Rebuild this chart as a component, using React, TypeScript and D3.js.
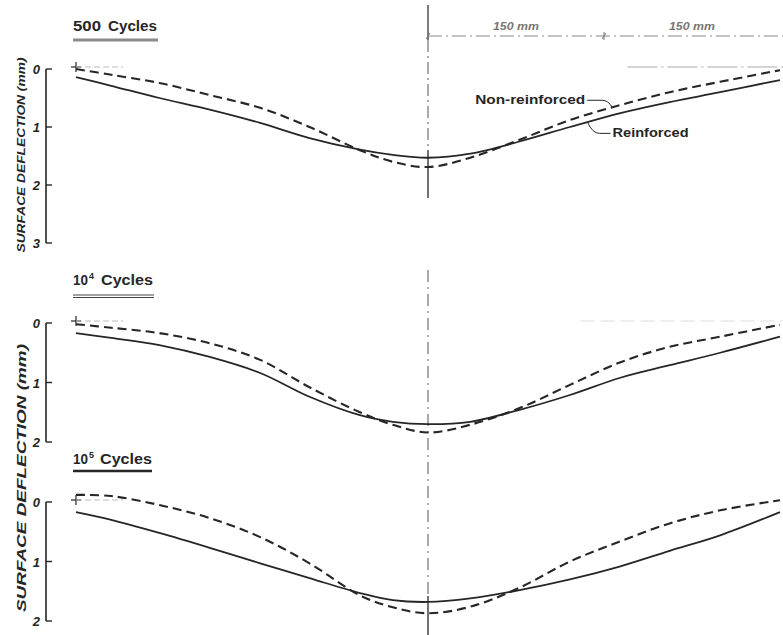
import React from "react";
import * as d3 from "d3";

// Offset from centerline (mm)
const positions = [-300, -270, -229, -186, -143, -101, -58, -30, 0, 36, 78, 121, 164, 206, 249, 300];

// Surface deflection (mm)
const reinforced500 = [0.14, 0.29, 0.5, 0.7, 0.93, 1.19, 1.39, 1.48, 1.53, 1.46, 1.25, 1.0, 0.76, 0.57, 0.4, 0.19];
const nonReinforced500 = [0.0, 0.1, 0.24, 0.45, 0.67, 1.0, 1.4, 1.6, 1.69, 1.53, 1.22, 0.88, 0.62, 0.4, 0.22, 0.02];
const reinforced1e4 = [0.17, 0.25, 0.37, 0.57, 0.84, 1.24, 1.55, 1.66, 1.7, 1.66, 1.46, 1.21, 0.92, 0.71, 0.5, 0.23];
const nonReinforced1e4 = [0.02, 0.08, 0.17, 0.34, 0.62, 1.08, 1.5, 1.71, 1.84, 1.71, 1.43, 1.04, 0.66, 0.4, 0.23, 0.03];
const reinforced1e5 = [0.17, 0.3, 0.52, 0.77, 1.03, 1.28, 1.53, 1.65, 1.68, 1.62, 1.48, 1.3, 1.08, 0.82, 0.56, 0.17];
const nonReinforced1e5 = [-0.12, -0.1, 0.05, 0.27, 0.59, 1.03, 1.57, 1.77, 1.87, 1.76, 1.44, 1.0, 0.66, 0.36, 0.14, -0.03];

const ticks3 = [0, 1, 2, 3];
const ticks2 = [0, 1, 2];
const yLabel = "SURFACE DEFLECTION (mm)";
const dimLabels = ["150 mm", "150 mm"];
const dimStops = [0, 150, 300];

const INK = "#262626";
const FONT = "'Liberation Sans Narrow', 'Liberation Sans', Arial, sans-serif";

const x = d3.scaleLinear().domain([-300, 300]).range([76, 780]);

const panels = [
  { title: "500", sup: "", r: reinforced500, n: nonReinforced500, ticks: ticks3, range: [69, 243] as [number, number], underline: "grey", numW: 28, cyclesX: 108, cyclesW: 49 },
  { title: "10", sup: "4", r: reinforced1e4, n: nonReinforced1e4, ticks: ticks2, range: [323, 442] as [number, number], underline: "double", numW: 15, cyclesX: 101, cyclesW: 52 },
  { title: "10", sup: "5", r: reinforced1e5, n: nonReinforced1e5, ticks: ticks2, range: [502, 621] as [number, number], underline: "black", numW: 15, cyclesX: 100, cyclesW: 52 },
];

function Panel({ p }: { p: (typeof panels)[number] }) {
  const maxT = p.ticks[p.ticks.length - 1];
  const y = d3.scaleLinear().domain([0, maxT]).range(p.range);
  const line = d3
    .line<number>()
    .x((_, i) => x(positions[i]))
    .y((d) => y(d))
    .curve(d3.curveCatmullRom.alpha(0.5));
  const axisX = 46;
  const titleY = y(0) - 38;
  return (
    <g>
      {/* axis */}
      <line x1={axisX} x2={axisX} y1={y(0)} y2={y(maxT)} stroke={INK} strokeWidth={1.6} />
      {p.ticks.map((t) => (
        <g key={t}>
          <line x1={axisX} x2={axisX + 6} y1={y(t)} y2={y(t)} stroke={INK} strokeWidth={1.4} />
          <text x={axisX - 6} y={y(t) + 5} textAnchor="end" fontFamily={FONT} fontWeight="bold" fontStyle="italic" fontSize={13} fill={INK}>
            {t}
          </text>
        </g>
      ))}
      {/* title */}
      <text x={73} y={titleY} fontFamily={FONT} fontWeight="bold" fontSize={14} fill={INK} textLength={p.numW} lengthAdjust="spacingAndGlyphs">
        {p.title}
      </text>
      {p.sup ? (
        <text x={73 + p.numW + 1} y={titleY - 6} fontFamily={FONT} fontWeight="bold" fontSize={9} fill={INK}>
          {p.sup}
        </text>
      ) : null}
      <text x={p.cyclesX} y={titleY} fontFamily={FONT} fontWeight="bold" fontSize={14} fill={INK} textLength={p.cyclesW} lengthAdjust="spacingAndGlyphs">
        Cycles
      </text>
      {p.underline === "grey" && <line x1={73} x2={158} y1={titleY + 9} y2={titleY + 9} stroke="#8a8a8a" strokeWidth={3} />}
      {p.underline === "double" && (
        <g>
          <line x1={73} x2={154} y1={titleY + 10} y2={titleY + 10} stroke="#444" strokeWidth={1.2} />
          <line x1={73} x2={154} y1={titleY + 12.5} y2={titleY + 12.5} stroke="#444" strokeWidth={1.2} />
        </g>
      )}
      {p.underline === "black" && <line x1={73} x2={152} y1={titleY + 7} y2={titleY + 7} stroke={INK} strokeWidth={2.6} />}
      {/* origin cross and faint zero reference */}
      <line x1={x(-300) - 5} x2={x(-300) + 5} y1={y(0) - 2} y2={y(0) - 2} stroke={INK} strokeWidth={1.2} />
      <line x1={x(-300)} x2={x(-300)} y1={y(0) - 7} y2={y(0) + 3} stroke={INK} strokeWidth={1.2} />
      <line x1={x(-300)} x2={x(-260)} y1={y(0) - 2} y2={y(0) - 2} stroke="#bbb" strokeWidth={1} strokeDasharray="6,3" />
      {/* curves */}
      <path d={line(p.r) || ""} fill="none" stroke={INK} strokeWidth={1.8} />
      <path d={line(p.n) || ""} fill="none" stroke={INK} strokeWidth={2.1} strokeDasharray="9,5" />
    </g>
  );
}

export default function App() {
  const cx = x(0);
  const y1 = d3.scaleLinear().domain([0, 3]).range([69, 243]);
  const dimY = 36;
  // annotation anchors on the 500-cycle curves
  const nAnchor = { xv: 157, yv: 0.66 };
  const rAnchor = { xv: 136, yv: 0.92 };
  const nx = x(nAnchor.xv);
  const ny = y1(nAnchor.yv);
  const rx = x(rAnchor.xv);
  const ry = y1(rAnchor.yv);
  return (
    <svg width={783} height={635} style={{ position: "absolute", left: 0, top: 0, background: "#fff" }}>
      {/* faint zero reference lines */}
      <line x1={x(170)} x2={783} y1={y1(0) - 2} y2={y1(0) - 2} stroke="#aaa" strokeWidth={1.2} strokeDasharray="30,4,2,4" />
      <line x1={x(130)} x2={783} y1={321} y2={321} stroke="#ddd" strokeWidth={1} strokeDasharray="14,6" />

      {/* centerline */}
      <line x1={cx} x2={cx} y1={5} y2={40} stroke={INK} strokeWidth={1.2} />
      <line x1={cx} x2={cx} y1={40} y2={150} stroke="#555" strokeWidth={1} strokeDasharray="12,4,2,4" />
      <line x1={cx} x2={cx} y1={150} y2={198} stroke={INK} strokeWidth={1.3} />
      <line x1={cx} x2={cx} y1={270} y2={596} stroke="#555" strokeWidth={1} strokeDasharray="12,5,2,5" />
      <line x1={cx} x2={cx} y1={596} y2={635} stroke={INK} strokeWidth={1.3} />

      {/* dimension line */}
      <line x1={x(dimStops[0])} x2={783} y1={dimY} y2={dimY} stroke="#888" strokeWidth={1} strokeDasharray="14,4,2,4" />
      {dimStops.slice(0, 2).map((s) => (
        <g key={s}>
          <line x1={x(s)} x2={x(s)} y1={dimY - 4} y2={dimY + 4} stroke="#777" strokeWidth={1} />
          <line x1={x(s) - 2} x2={x(s) + 2} y1={dimY + 3} y2={dimY - 3} stroke="#777" strokeWidth={1} />
        </g>
      ))}
      {dimLabels.map((lab, i) => (
        <text
          key={i}
          x={(x(dimStops[i]) + x(dimStops[i + 1])) / 2}
          y={dimY - 6}
          textAnchor="middle"
          fontFamily={FONT}
          fontWeight="bold"
          fontStyle="italic"
          fontSize={11}
          fill="#777"
          textLength={46}
          lengthAdjust="spacingAndGlyphs"
        >
          {lab}
        </text>
      ))}

      {panels.map((p, i) => (
        <Panel key={i} p={p} />
      ))}

      {/* y axis titles */}
      <text
        transform="translate(25,155) rotate(-90)"
        textAnchor="middle"
        fontFamily={FONT}
        fontWeight="bold"
        fontStyle="italic"
        fontSize={11}
        fill={INK}
        textLength={195}
        lengthAdjust="spacingAndGlyphs"
      >
        {yLabel}
      </text>
      <text
        transform="translate(26,478) rotate(-90)"
        textAnchor="middle"
        fontFamily={FONT}
        fontWeight="bold"
        fontStyle="italic"
        fontSize={12}
        fill={INK}
        textLength={268}
        lengthAdjust="spacingAndGlyphs"
      >
        {yLabel}
      </text>

      {/* annotations */}
      <text x={nx - 27} y={ny - 3} textAnchor="end" fontFamily={FONT} fontWeight="bold" fontSize={13} fill={INK} textLength={110} lengthAdjust="spacingAndGlyphs">
        Non-reinforced
      </text>
      <path d={`M${nx - 25},${ny - 7} L${nx - 10},${ny - 7} Q${nx - 4},${ny - 7} ${nx},${ny}`} fill="none" stroke={INK} strokeWidth={1} />
      <text x={rx + 25} y={ry + 15} fontFamily={FONT} fontWeight="bold" fontSize={13} fill={INK} textLength={76} lengthAdjust="spacingAndGlyphs">
        Reinforced
      </text>
      <path d={`M${rx + 23},${ry + 11} L${rx + 12},${ry + 11} Q${rx + 5},${ry + 11} ${rx},${ry}`} fill="none" stroke={INK} strokeWidth={1} />
    </svg>
  );
}
